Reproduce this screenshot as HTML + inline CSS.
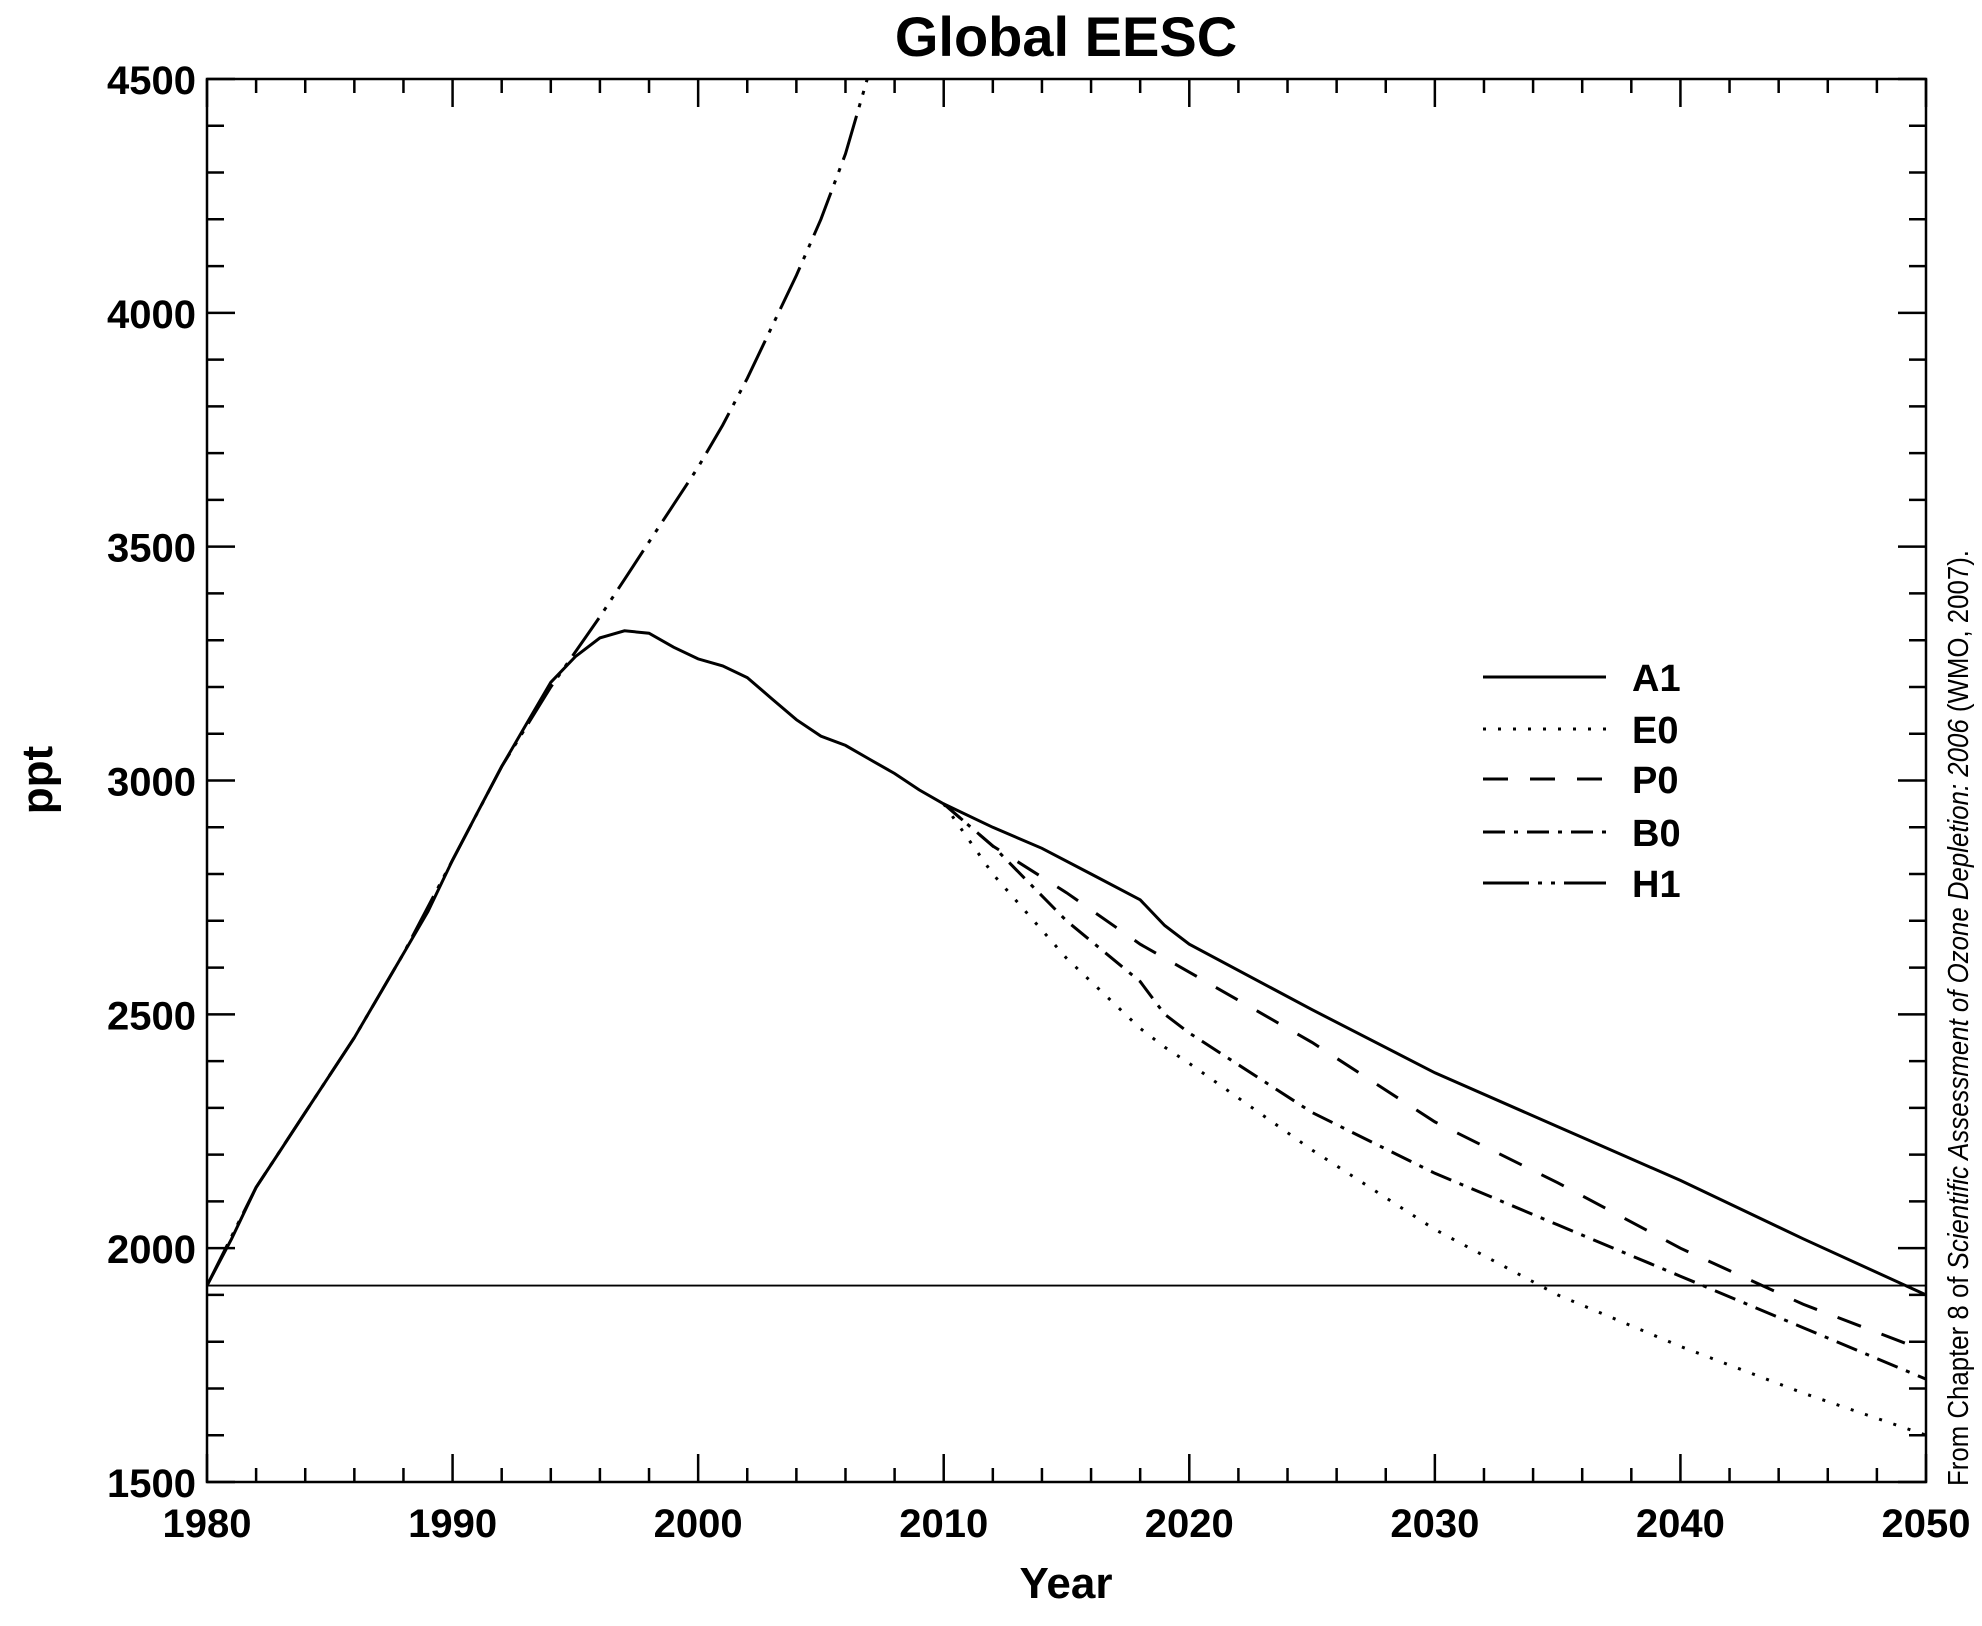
<!DOCTYPE html>
<html><head><meta charset="utf-8"><style>
html,body{margin:0;padding:0;background:#fff;}
svg text{font-family:"Liberation Sans",sans-serif;}
</style></head><body>
<svg id="chart" width="1982" height="1621" viewBox="0 0 1982 1621" xmlns="http://www.w3.org/2000/svg">
<rect width="1982" height="1621" fill="#fff"/>
<text x="1066" y="56" font-size="56" font-weight="bold" text-anchor="middle">Global EESC</text>
<g id="axes"></g>
<g id="series"></g>
<g id="legend"></g>
<text transform="translate(52,780) rotate(-90)" font-size="44" font-weight="bold" text-anchor="middle">ppt</text>
<text x="1066" y="1598" font-size="44" font-weight="bold" text-anchor="middle">Year</text>
<text transform="translate(1968,1486) rotate(-90)" font-size="29" textLength="936" lengthAdjust="spacingAndGlyphs">From Chapter 8 of <tspan font-style="italic">Scientific Assessment of Ozone Depletion: 2006</tspan> (WMO, 2007).</text>
</svg>
<script>
const xTicks = [1980,1990,2000,2010,2020,2030,2040,2050];
const yTicks = [1500,2000,2500,3000,3500,4000,4500];
const refLevel = 1920;
const a1Years = [1980,1981,1982,1983,1984,1985,1986,1987,1988,1989,1990,1991,1992,1993,1994,1995,1996,1997,1998,1999,2000,2001,2002,2003,2004,2005,2006,2007,2008,2009,2010,2012,2014,2016,2018,2019,2020,2025,2030,2035,2040,2045,2050];
const a1Values = [1920,2020,2130,2210,2290,2370,2450,2540,2630,2720,2830,2930,3030,3120,3210,3265,3305,3320,3315,3285,3260,3245,3220,3175,3130,3095,3075,3045,3015,2980,2950,2900,2855,2800,2745,2690,2650,2510,2375,2260,2145,2020,1900];
const futYears = [2010,2012,2015,2018,2019,2020,2025,2030,2035,2040,2045,2050];
const e0Values = [2950,2800,2620,2470,2430,2395,2210,2040,1900,1790,1690,1600];
const p0Values = [2950,2860,2760,2650,2620,2590,2440,2270,2140,2000,1880,1780];
const b0Values = [2950,2860,2700,2570,2500,2460,2290,2160,2050,1940,1830,1720];
const h1Years = [1980,1982,1984,1986,1988,1990,1992,1994,1995,1996,1997,1998,1999,2000,2001,2002,2003,2004,2005,2006,2007];
const h1Values = [1920,2130,2290,2450,2630,2830,3030,3200,3275,3350,3430,3510,3590,3670,3760,3860,3970,4080,4200,4340,4520];

const L=207,R=1926,T=79,B=1482;
const xS = v => L + (v-1980)/(2050-1980)*(R-L);
const yS = v => B - (v-1500)/(4500-1500)*(B-T);
const NS="http://www.w3.org/2000/svg";
function mk(tag, attrs, parent){const e=document.createElementNS(NS,tag);for(const k in attrs)e.setAttribute(k,attrs[k]);parent.appendChild(e);return e;}
const axes=document.getElementById('axes');
const frame=mk('rect',{x:L,y:T,width:R-L,height:B-T,fill:'none',stroke:'#000','stroke-width':2.5},axes);


// x ticks
for(let yr=1980; yr<=2050; yr+=2){
  const maj = (yr%10===0);
  const len = maj?28:14;
  const x=xS(yr);
  const t1=mk('line',{x1:x,x2:x,y1:B,y2:B-len,stroke:'#000','stroke-width':2.5},axes);
  
  
  const t2=mk('line',{x1:x,x2:x,y1:T,y2:T+len,stroke:'#000','stroke-width':2.5},axes);
  
  
}
xTicks.forEach(v=>{
  const t=mk('text',{x:xS(v),y:1537,'font-size':40,'font-weight':'bold','text-anchor':'middle'},axes);
  t.textContent=v;
  
  
});
for(let v=1500; v<=4500; v+=100){
  const maj=(v%500===0);
  const len=maj?28:17;
  const y=yS(v);
  const t1=mk('line',{x1:L,x2:L+len,y1:y,y2:y,stroke:'#000','stroke-width':2.5},axes);
  
  
  const t2=mk('line',{x1:R,x2:R-len,y1:y,y2:y,stroke:'#000','stroke-width':2.5},axes);
  
  
}
yTicks.forEach(v=>{
  const t=mk('text',{x:196,y:yS(v)+15,'font-size':40,'font-weight':'bold','text-anchor':'end'},axes);
  t.textContent=v;
  
  
});
const ref=mk('line',{x1:L,x2:R,y1:yS(refLevel),y2:yS(refLevel),stroke:'#000','stroke-width':1.8},axes);



const series=document.getElementById('series');
mk('clipPath',{id:'clip'},series).appendChild(Object.assign(document.createElementNS(NS,'rect'),{}));
series.querySelector('clipPath rect').setAttribute('x',L);
series.querySelector('clipPath rect').setAttribute('y',T);
series.querySelector('clipPath rect').setAttribute('width',R-L);
series.querySelector('clipPath rect').setAttribute('height',B-T);
const dashes={A1:'',E0:'3 12',P0:'25 22',B0:'22 9 4 9',H1:'46 9 4 9 4 9'};
function line(name,xs,ys,dash){
  const d=xs.map((x,i)=>(i?'L':'M')+xS(x).toFixed(1)+','+yS(ys[i]).toFixed(1)).join(' ');
  const p=mk('path',{d:d,fill:'none',stroke:'#000','stroke-width':3,'stroke-dasharray':dash||'none','clip-path':'url(#clip)'},series);
  
  
}
line('H1',h1Years,h1Values,dashes.H1);
line('B0',futYears,b0Values,dashes.B0);
line('P0',futYears,p0Values,dashes.P0);
line('E0',futYears,e0Values,dashes.E0);
line('A1',a1Years,a1Values,'');

const legend=document.getElementById('legend');
const names=['A1','E0','P0','B0','H1'];
const rowsY=[677,729,779,832,883];
names.forEach((n,i)=>{
  const g=mk('g',{},legend);
  
  
  mk('line',{x1:1483,x2:1606,y1:rowsY[i],y2:rowsY[i],stroke:'#000','stroke-width':3,'stroke-dasharray':dashes[n]||'none'},g);
  const t=mk('text',{x:1632,y:rowsY[i]+14,'font-size':38,'font-weight':'bold'},g);
  t.textContent=n;
});
</script>
</body></html>
